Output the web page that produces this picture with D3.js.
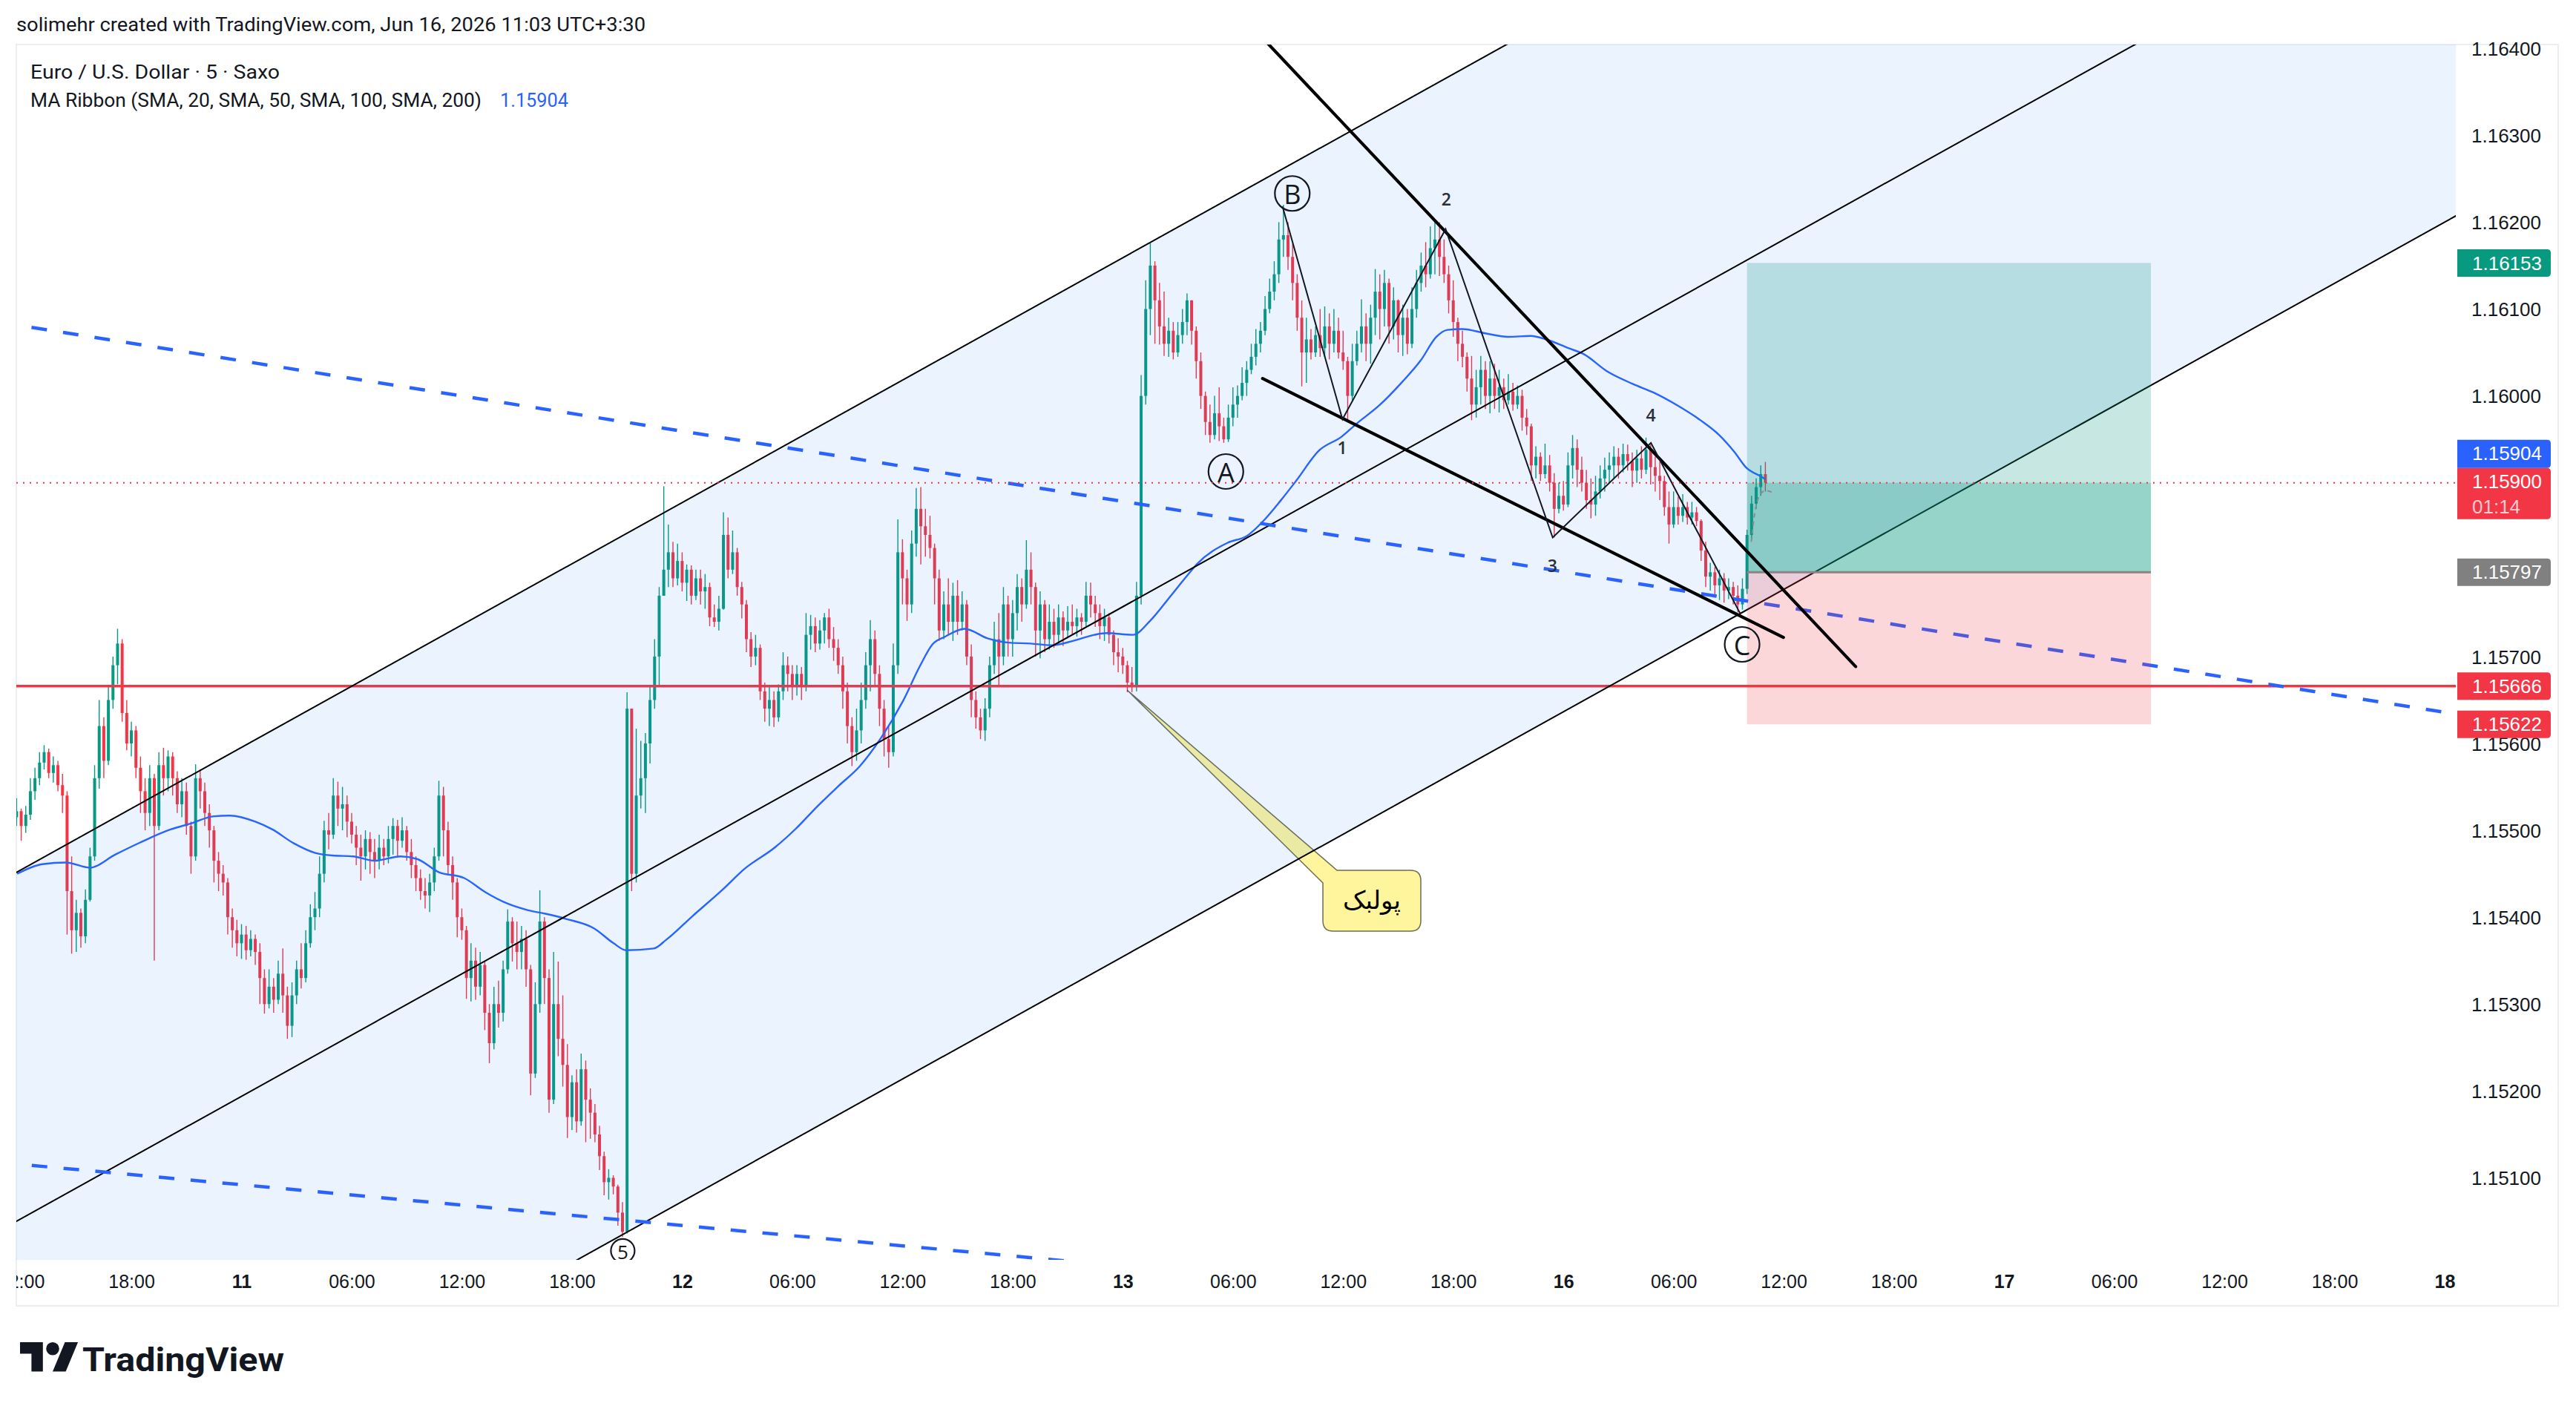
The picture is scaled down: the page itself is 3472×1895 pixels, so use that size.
<!DOCTYPE html>
<html>
<head>
<meta charset="utf-8">
<title>EURUSD 5 Saxo</title>
<script src="https://cdn.jsdelivr.net/npm/d3@7/dist/d3.min.js"></script>
<style>
html,body{margin:0;padding:0;background:#ffffff;}
svg{display:block;}
</style>
</head>
<body>
<svg id="chart" width="3472" height="1895" xmlns="http://www.w3.org/2000/svg"></svg>
<script>
// ======================= DATA =======================
const headerText = "solimehr created with TradingView.com, Jun 16, 2026 11:03 UTC+3:30";
const symbolText = "Euro / U.S. Dollar · 5 · Saxo";
const indicatorText = "MA Ribbon (SMA, 20, SMA, 50, SMA, 100, SMA, 200)";
const indicatorValue = "1.15904";

// trading-session hours (weekend removed) at the start of each calendar day
const dayOffsetHours = {"10":0,"11":24,"12":48,"13":72,"16":96,"17":120,"18":144};

// candles (15-minute resolution), values in 0.00001 above priceBase
const candleStart = "10 11:45";
const candleStepMinutes = 15;
const priceBase = 1.15;
const pip = 0.00001;
const firstOpen = 515;
const closes = [
 522,
 505,518,545,560, 578,590,566,575, 552,540,430,385, 405,378,420,470,
 560,620,580,650, 690,715,635,600, 615,572,545,520, 560,505,575,560,
 585,560,530,545, 505,470,560,545, 520,500,465,450, 440,400,385,370,
 380,362,375,360, 330,300,320,305, 335,310,275,310, 340,330,370,400,
 410,450,500,495, 540,525,530,510, 495,480,470,490, 475,465,480,470,
 490,505,488,500, 475,460,445,430, 425,440,470,540, 500,460,440,400,
 385,330,350,320, 345,290,255,300, 290,340,395,370, 360,375,340,220,
 300,395,330,190, 300,260,230,170, 210,165,225,190, 175,150,125,95,
 100,90,60,38, 640,450,540,560, 600,650,700,770, 800,820,790,810,
 785,800,770,790, 775,780,745,740, 755,840,800,820, 780,760,720,700,
 710,660,640,650, 630,660,690,680, 665,680,665,725, 735,715,730,745,
 720,710,690,660, 620,590,615,650, 690,720,680,640, 605,590,690,820,
 790,760,830,870, 850,840,825,790, 730,760,740,770, 740,760,700,650,
 630,615,640,690, 720,700,760,720, 750,780,760,800, 780,730,760,720,
 740,725,745,730, 740,735,745,740, 770,760,750,735, 745,725,705,700,
 690,670,665,770, 1000,1100,1150,1110, 1080,1060,1075,1050, 1070,1085,1110,1075,
 1040,1000,970,955, 980,965,950,975, 990,1000,1015,1030, 1045,1060,1075,1100,
 1120,1140,1180,1185, 1160,1130,1090,1050, 1065,1050,1070,1055, 1080,1060,1075,1050,
 1040,1000,1040,1060, 1080,1060,1090,1120, 1100,1130,1080,1110, 1070,1090,1060,1100,
 1130,1150,1140,1170, 1180,1160,1140,1110, 1085,1060,1045,1020, 990,1010,1030,1000,
 1020,1000,1010,995, 1005,990,1000,975, 965,920,930,910, 920,900,870,885,
 875,920,940,915, 900,880,875,890, 905,915,920,930, 920,933,925,914,
 928,915,938,918, 908,902,872,852, 872,862,872,860, 866,856,822,792,
 797,782,790,776, 780,770,760,778, 840,876,895,910,
 900
];
const highs = [
 537,
 525,528,560,572, 590,598,594,585, 580,565,545,470, 420,410,432,480,
 575,650,630,665, 700,732,720,650, 625,620,585,560, 575,565,590,595,
 592,590,568,560, 555,510,576,570, 555,530,505,475, 460,445,410,397,
 392,390,385,380, 370,340,340,330, 350,364,320,325, 350,370,385,415,
 429,470,511,520, 560,556,550,540, 520,505,495,500, 498,490,495,490,
 505,514,512,515, 505,490,470,455, 445,450,480,557, 550,510,470,445,
 410,390,370,365, 360,350,300,320, 327,350,409,400, 395,390,385,345,
 325,431,400,340, 360,349,310,254, 218,225,243,235, 203,185,160,130,
 110,103,92,72, 659,640,617,603, 612,665,720,780, 896,852,832,830,
 820,806,805,800, 800,795,785,760, 770,866,860,845, 825,786,765,728,
 725,714,670,665, 660,668,705,700, 690,690,688,750, 748,745,742,750,
 755,734,720,700, 670,630,640,670, 705,742,730,690, 650,620,715,858,
 835,800,845,894, 895,870,862,830, 800,775,790,785, 788,775,765,714,
 660,640,652,700, 740,750,780,770, 765,795,790,834, 820,785,775,765,
 760,755,760,752, 758,760,755,750, 786,785,770,760, 755,750,730,721,
 710,695,688,786, 1024,1133,1177,1155, 1130,1120,1090,1085, 1085,1100,1118,1110,
 1080,1050,1005,990, 1000,1010,975,990, 1010,1012,1033,1040, 1060,1077,1085,1115,
 1135,1155,1200,1220, 1200,1175,1140,1110, 1090,1077,1080,1100, 1103,1095,1100,1090,
 1075,1045,1060,1075, 1111,1095,1105,1146, 1140,1145,1135,1125, 1111,1105,1100,1125,
 1145,1165,1177,1195, 1203,1200,1180,1150, 1133,1090,1075,1050, 1046,1030,1046,1040,
 1040,1037,1030,1020, 1025,1015,1012,1007, 985,968,942,935, 945,932,911,900,
 902,935,955,950, 930,915,905,908, 920,929,935,942, 940,945,944,935,
 938,942,952,944, 930,925,908,890, 890,884,887,878, 878,872,858,832,
 808,803,800,796, 790,786,782,790, 846,885,905,920,
 924
];
const lows = [
 505,
 488,497,512,535, 552,570,560,555, 545,520,380,358, 360,365,370,418,
 465,548,560,575, 640,668,625,592, 585,560,520,500, 505,350,500,540,
 545,540,520,515, 495,450,465,525, 505,480,440,430, 425,380,365,355,
 352,351,355,345, 300,289,295,290, 300,290,260,262, 300,318,325,365,
 385,400,440,478, 490,505,500,492, 485,460,442,455, 450,445,455,460,
 462,472,470,480, 465,445,430,420, 410,406,430,465, 470,450,420,377,
 374,306,303,305, 310,270,232,248, 273,280,335,349, 340,340,320,195,
 215,290,300,175, 185,240,205,146, 155,152,160,141, 145,141,109,80,
 75,81,45,32, 36,430,440,525, 520,577,640,665, 770,780,780,782,
 775,764,760,765, 760,755,735,734, 730,754,790,795, 770,744,705,688,
 690,650,625,620, 619,625,650,660, 650,655,650,660, 708,705,708,715,
 710,695,680,640, 600,574,580,600, 640,660,665,620, 585,572,585,680,
 760,741,750,815, 806,815,813,760, 718,720,725,718, 725,730,690,630,
 617,605,603,630, 680,665,690,700, 700,730,740,755, 760,700,698,705,
 708,710,715,712, 721,725,723,725, 735,745,734,720, 718,715,690,682,
 680,659,659,660, 760,990,1070,1060, 1059,1046,1045,1042, 1045,1060,1070,1059,
 1020,985,955,946, 950,948,946,947, 965,975,995,1000, 1025,1035,1050,1070,
 1095,1110,1130,1160, 1145,1110,1075,1011, 1015,1042,1045,1045, 1045,1042,1050,1043,
 1030,972,995,1035, 1050,1040,1037,1070, 1065,1080,1060,1065, 1050,1046,1048,1055,
 1090,1120,1125,1135, 1140,1138,1130,1095, 1068,1040,1033,1005, 972,975,990,985,
 980,985,981,985, 990,983,985,960, 955,902,905,902, 905,890,837,865,
 868,872,905,895, 890,870,859,862, 882,890,900,905, 905,912,914,895,
 900,905,910,898, 890,880,862,830, 848,852,855,852, 852,850,810,780,
 776,768,765,762, 766,760,751,754, 772,835,870,885,
 890
];

// MA line
const maTimes = ["10 11:47","10 13:09","10 14:26","10 15:44","10 17:07","10 18:29","10 20:08","10 21:16","10 22:26","10 23:22",
 "11 00:45","11 01:41","11 02:51","11 04:01","11 04:57","11 06:05","11 07:15","11 08:40","11 09:34","11 10:44","11 12:08",
 "11 13:16","11 14:27","11 15:37","11 16:33","11 17:41","11 19:13","11 20:16","11 20:57","11 22:27","11 23:08",
 "12 00:33","12 02:10","12 03:25","12 05:02","12 06:12","12 07:23","12 08:31","12 09:41","12 10:51","12 12:02","12 12:57",
 "12 13:38","12 14:20","12 15:23","12 16:38","12 17:48","12 18:59","12 20:07","12 21:17","12 22:27","12 23:08",
 "13 00:33","13 01:29","13 02:37","13 03:30","13 04:04","13 05:43","13 06:46","13 07:47","13 08:37","13 09:26","13 10:41",
 "13 11:55","13 12:44","13 13:58","13 15:13","13 16:14","13 17:05","13 17:41","13 18:30","13 19:45","13 21:00","13 22:13","13 23:04",
 "16 00:16","16 01:07","16 02:20","16 03:45","16 05:00","16 06:13","16 07:28","16 08:29","16 09:20","16 09:56","16 10:52","16 11:00"];
const maValues = [1.15450,1.15461,1.15463,1.15457,1.15472,1.15486,1.15501,1.15508,1.15516,1.15517,
 1.15510,1.15501,1.15485,1.15474,1.15471,1.15470,1.15465,1.15470,1.15467,1.15452,1.15445,
 1.15429,1.15416,1.15408,1.15404,1.15398,1.15387,1.15370,1.15362,1.15364,1.15374,
 1.15401,1.15431,1.15456,1.15480,1.15502,1.15528,1.15551,1.15574,1.15607,1.15649,1.15689,
 1.15714,1.15723,1.15732,1.15721,1.15716,1.15715,1.15713,1.15718,1.15725,1.15727,
 1.15725,1.15741,1.15770,1.15793,1.15807,1.15831,1.15839,1.15859,1.15880,1.15902,1.15937,
 1.15953,1.15968,1.15989,1.16016,1.16041,1.16068,1.16076,1.16077,1.16072,1.16068,1.16069,1.16065,
 1.16055,1.16048,1.16029,1.16014,1.16003,1.15989,1.15972,1.15955,1.15935,1.15918,1.15906,1.15904];

// price / time axis ticks
const priceTicks = [1.164,1.163,1.162,1.161,1.160,1.159,1.158,1.157,1.156,1.155,1.154,1.153,1.152,1.151];
const timeTicks = ["10 12:00","10 18:00","11 00:00","11 06:00","11 12:00","11 18:00","12 00:00","12 06:00","12 12:00","12 18:00",
 "13 00:00","13 06:00","13 12:00","13 18:00","16 00:00","16 06:00","16 12:00","16 18:00","17 00:00","17 06:00","17 12:00","17 18:00","18 00:00"];

// drawings (time, price anchors)
const channelUpper  = [["10 11:47",1.15452],["13 07:04",1.16242]];
const channelMiddle = [["11 05:38",1.15260],["16 03:45",1.16083]];
const channelLower  = [["11 18:24",1.15007],["17 09:26",1.16029]];
const dashedUpper = [["12 19:25",1.15894],["16 03:45",1.15785]];
const dashedLower = [["10 11:44",1.15116],["12 19:34",1.15007]];
const resistanceLevel = 1.15666;
const wedgeUpper = [["13 07:45",1.16409],["16 15:55",1.156885]];
const wedgeLower = [["13 07:37",1.16020],["16 11:59",1.15722]];
const waveZigzag = [["13 08:42",1.16218],["13 11:58",1.15973],["13 17:35",1.16192],["13 23:25",1.15837],["16 04:46",1.15946],["16 09:37",1.15750]];
const circledLabels = [["A","13 05:37",1.15913,"big"],["B","13 09:14",1.16233,"big"],["C","16 09:44",1.15714,"big"],["5","11 20:46",1.15016,"small"]];
const waveNumbers = [["1","13 11:57",1.15941],["2","13 17:37",1.16227],["3","13 23:24",1.15805],["4","16 04:46",1.15978]];
const projectionPath = [["16 10:14",1.15832],["16 10:33",1.15895],["16 11:23",1.15889]];
const calloutText = "پولبک";
const calloutAnchor = ["13 00:14",1.156615];
const calloutCenter = ["13 13:34",1.15419];
const longStart = "16 10:00", longEnd = "17 08:00";
const longEntry = 1.15797, longTarget = 1.16153, longStop = 1.15622;
const currentPrice = 1.15900, countdownText = "01:14", maLast = 1.15904;

// ======================= RENDER =======================
function tH(s){const [d,hm]=s.split(" ");const [h,m]=hm.split(":").map(Number);return dayOffsetHours[d]+h+m/60;}
const W=3472,H=1895;
const PL=22, PR=3310, PT=60, PB=1698, AXR=3448, FB=1760;
const x = d3.scaleLinear().domain([tH("11 00:00"), tH("18 00:00")]).range([325.5, 3295]);
const y = d3.scaleLinear().domain([1.151, 1.164]).range([1587.5, 65.2]);
const fmt = d3.format(".5f");
const UP="#089981", DN="#f23645", BLUE="#2962ff", INK="#131722";

const svg = d3.select("#chart");
svg.append("rect").attr("width",W).attr("height",H).attr("fill","#fff");
const defs = svg.append("defs");
defs.append("clipPath").attr("id","plotClip").append("rect").attr("x",PL).attr("y",PT).attr("width",PR-PL).attr("height",PB-PT);
defs.append("clipPath").attr("id","timeClip").append("rect").attr("x",PL).attr("y",PB).attr("width",PR-PL).attr("height",FB-PB);

// header
const hdr = svg.append("g").attr("font-family","Roboto, 'Noto Sans', sans-serif").attr("fill",INK).attr("font-size",26);
hdr.append("text").attr("x",22).attr("y",42).attr("textLength",848).attr("lengthAdjust","spacingAndGlyphs").text(headerText);
hdr.append("text").attr("x",41).attr("y",106).attr("textLength",336).attr("lengthAdjust","spacingAndGlyphs").text(symbolText);
hdr.append("text").attr("x",41).attr("y",144).attr("textLength",608).attr("lengthAdjust","spacingAndGlyphs").text(indicatorText);
hdr.append("text").attr("x",674).attr("y",144).attr("textLength",92).attr("lengthAdjust","spacingAndGlyphs").attr("fill",BLUE).text(indicatorValue);

// frame
svg.append("rect").attr("x",PL).attr("y",PT).attr("width",AXR-PL).attr("height",FB-PT)
  .attr("fill","none").attr("stroke","#eceef2").attr("stroke-width",2);

const plot = svg.append("g").attr("clip-path","url(#plotClip)");

// candles
const t0 = tH(candleStart);
const bars = closes.map((c,i)=>({
  t: t0 + i*candleStepMinutes/60,
  o: priceBase + (i ? closes[i-1] : firstOpen)*pip,
  c: priceBase + c*pip,
  h: priceBase + highs[i]*pip,
  l: priceBase + lows[i]*pip
}));
const cg = plot.append("g");
cg.selectAll("line.wick").data(bars).join("line")
  .attr("x1",d=>x(d.t)).attr("x2",d=>x(d.t))
  .attr("y1",d=>y(Math.max(d.h,d.o,d.c))).attr("y2",d=>y(Math.min(d.l,d.o,d.c)))
  .attr("stroke",d=>d.c>=d.o?UP:DN).attr("stroke-width",1.4);
cg.selectAll("rect.body").data(bars).join("rect")
  .attr("x",d=>x(d.t)-2).attr("width",4)
  .attr("y",d=>y(Math.max(d.o,d.c)))
  .attr("height",d=>Math.max(1.5, Math.abs(y(d.o)-y(d.c))))
  .attr("fill",d=>d.c>=d.o?UP:DN);

// MA line
const maData = maTimes.map((s,i)=>[tH(s), maValues[i]]);
plot.append("path").datum(maData)
  .attr("d", d3.line().x(d=>x(d[0])).y(d=>y(d[1])).curve(d3.curveMonotoneX))
  .attr("fill","none").attr("stroke",BLUE).attr("stroke-width",2.4);

// horizontal resistance
plot.append("line").attr("x1",PL).attr("x2",PR).attr("y1",y(resistanceLevel)).attr("y2",y(resistanceLevel))
  .attr("stroke",DN).attr("stroke-width",3.5);

// callout
{
  const ax = x(tH(calloutAnchor[0])), ay = y(calloutAnchor[1]);
  const cx = x(tH(calloutCenter[0])), cy = y(calloutCenter[1]);
  const L=cx-66, R=cx+66, T=cy-41, B=cy+41, r=14;
  const p = `M${ax},${ay} L${L+19},${T} L${R-r},${T} Q${R},${T} ${R},${T+r} L${R},${B-r} Q${R},${B} ${R-r},${B} L${L+r},${B} Q${L},${B} ${L},${B-r} L${L},${T+17} Z`;
  plot.append("path").attr("d",p).attr("fill","rgba(255,235,59,0.5)").attr("stroke","rgba(60,60,40,0.75)").attr("stroke-width",1.5);
  plot.append("text").attr("x",cx).attr("y",cy+2).attr("text-anchor","middle").attr("dominant-baseline","middle")
    .attr("font-family","'DejaVu Sans', 'Noto Sans', sans-serif").attr("font-size",34).attr("fill","#000").text(calloutText);
}

// channel fill + lines
function extLine(pts){
  const xa=x(tH(pts[0][0])), ya=y(pts[0][1]), xb=x(tH(pts[1][0])), yb=y(pts[1][1]);
  const k=(yb-ya)/(xb-xa);
  return [0, ya + k*(0-xa), W, ya + k*(W-xa)];
}
const cu = extLine(channelUpper), cl = extLine(channelLower), cm = extLine(channelMiddle);
plot.append("path").attr("d",`M${cu[0]},${cu[1]} L${cu[2]},${cu[3]} L${cl[2]},${cl[3]} L${cl[0]},${cl[1]} Z`)
  .attr("fill","rgba(33,130,240,0.095)");
[cu,cm,cl].forEach(l=>plot.append("line").attr("x1",l[0]).attr("y1",l[1]).attr("x2",l[2]).attr("y2",l[3])
  .attr("stroke","#000").attr("stroke-width",2));

// blue dashed lines
[dashedUpper,dashedLower].forEach(pts=>{
  const l=extLine(pts);
  plot.append("line").attr("x1",l[0]).attr("y1",l[1]).attr("x2",l[2]).attr("y2",l[3])
    .attr("stroke",BLUE).attr("stroke-width",4.5).attr("stroke-dasharray","21,22");
});

// long position box
{
  const xa=x(tH(longStart)), xb=x(tH(longEnd));
  plot.append("rect").attr("x",xa).attr("width",xb-xa).attr("y",y(longTarget)).attr("height",y(longEntry)-y(longTarget))
    .attr("fill","rgba(8,153,129,0.23)");
  plot.append("rect").attr("x",xa).attr("width",xb-xa).attr("y",y(currentPrice)).attr("height",y(longEntry)-y(currentPrice))
    .attr("fill","rgba(8,153,129,0.25)");
  plot.append("rect").attr("x",xa).attr("width",xb-xa).attr("y",y(longEntry)).attr("height",y(longStop)-y(longEntry))
    .attr("fill","rgba(242,54,69,0.2)");
  plot.append("line").attr("x1",xa).attr("x2",xb).attr("y1",y(longEntry)).attr("y2",y(longEntry))
    .attr("stroke","#8a8484").attr("stroke-width",3);
}

// wedge lines (thick)
[wedgeUpper,wedgeLower].forEach(pts=>{
  plot.append("line").attr("x1",x(tH(pts[0][0]))).attr("y1",y(pts[0][1]))
    .attr("x2",x(tH(pts[1][0]))).attr("y2",y(pts[1][1]))
    .attr("stroke","#000").attr("stroke-width",4.2).attr("stroke-linecap","round");
});
// zigzag wave
plot.append("path").datum(waveZigzag)
  .attr("d", d3.line().x(d=>x(tH(d[0]))).y(d=>y(d[1])))
  .attr("fill","none").attr("stroke","#131722").attr("stroke-width",2);
// projection dashed curve
plot.append("path").datum(projectionPath)
  .attr("d", d3.line().x(d=>x(tH(d[0]))).y(d=>y(d[1])).curve(d3.curveBasis))
  .attr("fill","none").attr("stroke","#8c8c8c").attr("stroke-width",2).attr("stroke-dasharray","6,5");

// circled labels
circledLabels.forEach(([lab,t,p,size])=>{
  const cx=x(tH(t)), cy=y(p), r = size==="big"?23.5:16;
  plot.append("circle").attr("cx",cx).attr("cy",cy).attr("r",r).attr("fill","none").attr("stroke",INK).attr("stroke-width",2.2);
  plot.append("text").attr("x",cx).attr("y",cy+1).attr("text-anchor","middle").attr("dominant-baseline","central")
    .attr("font-family","'Open Sans', 'Noto Sans', sans-serif").attr("font-size",size==="big"?36:26)
    .attr("fill",INK).text(lab);
});
waveNumbers.forEach(([lab,t,p])=>{
  plot.append("text").attr("x",x(tH(t))).attr("y",y(p)).attr("text-anchor","middle").attr("dominant-baseline","central")
    .attr("font-family","'Open Sans', 'Noto Sans', sans-serif").attr("font-size",23).attr("font-weight",600)
    .attr("fill","#2a2e39").text(lab);
});

// current price dotted line
plot.append("line").attr("x1",PL).attr("x2",PR).attr("y1",y(currentPrice)).attr("y2",y(currentPrice))
  .attr("stroke",DN).attr("stroke-width",2).attr("stroke-dasharray","2,7");

// ---------- price axis ----------
const yAxisG = svg.append("g").attr("transform","translate(3331,0)")
  .call(d3.axisRight(y).tickValues(priceTicks).tickFormat(fmt).tickSize(0).tickPadding(0));
yAxisG.select(".domain").remove();
yAxisG.selectAll("text").attr("font-family","'Liberation Sans', Arial, sans-serif").attr("font-size",26)
  .attr("fill",INK).attr("text-anchor","start").attr("dy","0.35em").attr("x",0);

// ---------- time axis ----------
const tickVals = timeTicks.map(tH);
const tickLabels = timeTicks.map(s=>{const [d,hm]=s.split(" "); return hm==="00:00"?d:hm;});
const xAxisG = svg.append("g").attr("clip-path","url(#timeClip)").append("g").attr("transform","translate(0,1727)")
  .call(d3.axisBottom(x).tickValues(tickVals).tickFormat((d,i)=>tickLabels[i]).tickSize(0).tickPadding(0));
xAxisG.select(".domain").remove();
xAxisG.selectAll("text").attr("font-family","'Liberation Sans', Arial, sans-serif").attr("font-size",25)
  .attr("fill",INK).attr("dy","0.35em")
  .attr("font-weight",(d,i)=>timeTicks[i].endsWith("00:00")?700:400);

// ---------- price tags ----------
function tag(top, h, color, lines){
  const g = svg.append("g");
  g.append("path").attr("d",`M3312,${top} H3433 Q3438,${top} 3438,${top+5} V${top+h-5} Q3438,${top+h} 3433,${top+h} H3312 Z`).attr("fill",color);
  lines.forEach((s,i)=>{
    g.append("text").attr("x",3332).attr("y",top+18.5+i*34).attr("dy","0.35em")
      .attr("font-family","'Liberation Sans', Arial, sans-serif").attr("font-size",26)
      .attr("fill", i===0?"#ffffff":"rgba(255,255,255,0.75)").text(s);
  });
}
tag(y(longTarget)-18.5, 37, UP, [fmt(longTarget)]);
const curTop = y(currentPrice)-20;
tag(curTop, 69, DN, [fmt(currentPrice), countdownText]);
tag(curTop-38, 38, BLUE, [fmt(maLast)]);
tag(y(longEntry)-18.5, 37, "#808080", [fmt(longEntry)]);
tag(y(resistanceLevel)-18.5, 37, DN, [fmt(resistanceLevel)]);
tag(y(longStop)-18.5, 37, DN, [fmt(longStop)]);

// ---------- logo ----------
const logo = svg.append("g").attr("fill","#131722");
logo.append("g").attr("transform","translate(27,1800.2) scale(2.2)").call(g=>{
  g.append("path").attr("d","M14 22H7V11H0V4h14v18zM28 22h-8l7.5-18h8L28 22z");
  g.append("circle").attr("cx",20).attr("cy",8).attr("r",4);
});
logo.append("text").attr("x",111).attr("y",1848).attr("font-family","Roboto, 'Noto Sans', sans-serif")
  .attr("font-weight",700).attr("font-size",44).attr("textLength",272).attr("lengthAdjust","spacingAndGlyphs").text("TradingView");
</script>
</body>
</html>
